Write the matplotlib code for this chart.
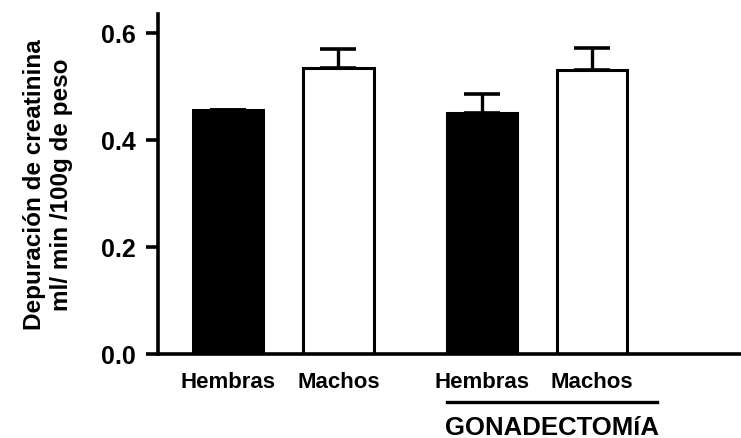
import matplotlib.pyplot as plt
from matplotlib.lines import Line2D

DPI = 100

# creatinine clearance per group
groups = ['Hembras', 'Machos', 'Hembras', 'Machos']
values = [0.455, 0.535, 0.45, 0.53]
errors = [0.0, 0.035, 0.035, 0.042]
colors = ['black', 'white', 'black', 'white']
positions = [0, 1, 2.3, 3.3]
y_ticks = [0.0, 0.2, 0.4, 0.6]

plt.rcParams['font.family'] = ['Liberation Sans', 'DejaVu Sans']
plt.rcParams['font.weight'] = 'bold'

fig = plt.figure(dpi=DPI, figsize=(741 / DPI, 439 / DPI))
ax = fig.add_axes([158 / 741, 1 - 355 / 439, (741 - 158) / 741, 340 / 439])

ax.bar(positions, values, width=0.64, color=colors, edgecolor='black',
       linewidth=2.2, zorder=2)
ax.errorbar(positions, values, yerr=[[0] * 4, errors], fmt='none',
            ecolor='black', elinewidth=2.4, capsize=13, capthick=2.6,
            zorder=1)

ax.set_xlim(-0.636, 4.65)
ax.set_ylim(0, 0.635)
ax.set_yticks(y_ticks)
ax.set_yticklabels(['%.1f' % t for t in y_ticks], fontsize=18,
                   fontweight='bold')
ax.set_xticks(positions)
ax.set_xticklabels(groups, fontsize=16, fontweight='bold')
ax.tick_params(axis='y', length=9, width=2.6, direction='out', pad=7)
ax.tick_params(axis='x', length=0, pad=12)

for side in ['top', 'right']:
    ax.spines[side].set_visible(False)
for side in ['left', 'bottom']:
    ax.spines[side].set_linewidth(2.6)

ax.set_ylabel('Depuración de creatinina\nml/ min /100g de peso',
              fontsize=17.5, fontweight='bold', labelpad=20, linespacing=1.25)

# line and caption under the gonadectomy groups
fig.add_artist(Line2D([447 / 741, 657 / 741], [1 - 403 / 439] * 2,
                      color='black', linewidth=2.4))
fig.text(552 / 741, 1 - 428 / 439, 'GONADECTOMíA', ha='center', va='center',
         fontsize=18.5, fontweight='bold')

fig.savefig('out.png')
